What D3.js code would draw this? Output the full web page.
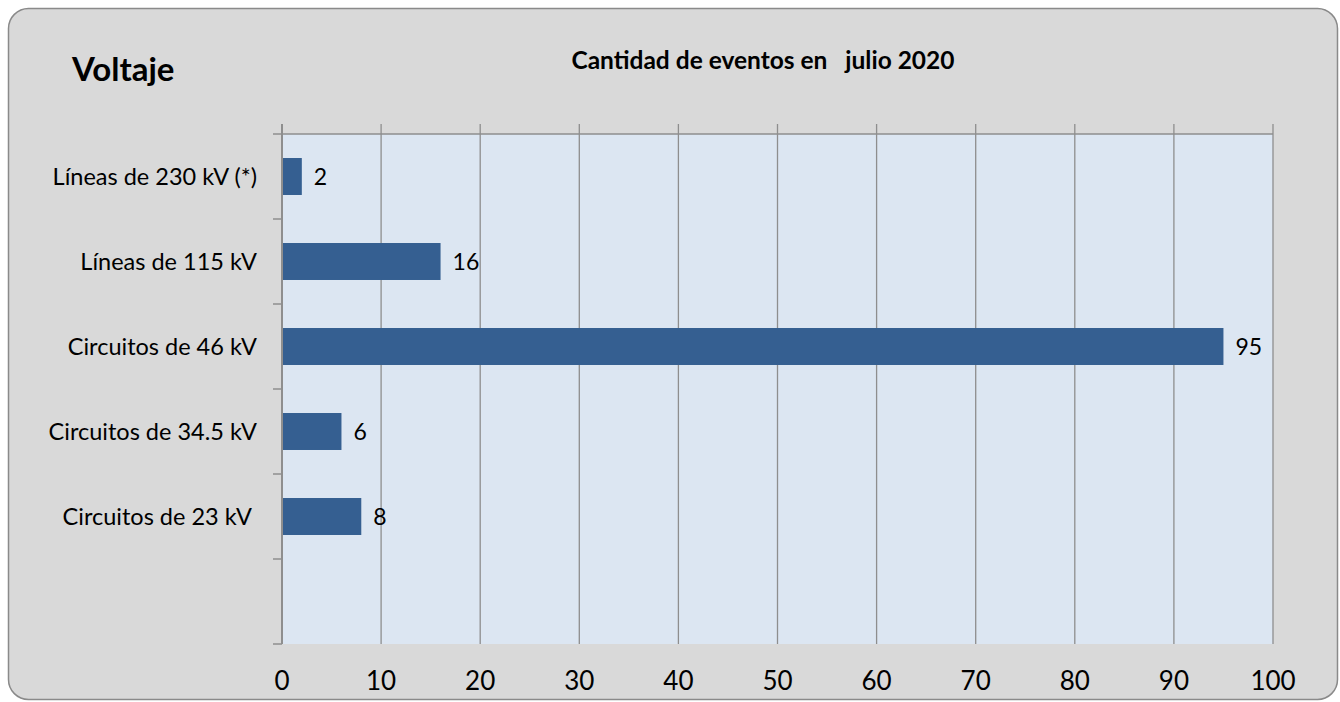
<!DOCTYPE html>
<html>
<head>
<meta charset="utf-8">
<script src="https://cdn.jsdelivr.net/npm/d3@7"></script>
<style>
  body { margin: 0; background: #fff; }
  text { font-family: Lato, "Open Sans", sans-serif; fill: #000; }
</style>
</head>
<body>
<div id="root"></div>
<script>
const categories = [
  "Líneas de 230 kV (*)",
  "Líneas de 115 kV",
  "Circuitos de 46 kV",
  "Circuitos de 34.5 kV",
  "Circuitos de 23 kV ",
  ""
];
const values = [2, 16, 95, 6, 8, null];
const xTicks = [0, 10, 20, 30, 40, 50, 60, 70, 80, 90, 100];

const width = 1340;
const height = 702;
const plot = { left: 282, right: 1273, top: 134, bottom: 644 };

const svg = d3.select("#root")
  .append("svg")
  .attr("width", width)
  .attr("height", height);

// chart frame
svg.append("rect")
  .attr("x", 8.5)
  .attr("y", 8.5)
  .attr("width", 1329)
  .attr("height", 691)
  .attr("rx", 20)
  .attr("fill", "#d9d9d9")
  .attr("stroke", "#8a8a8a")
  .attr("stroke-width", 1.5);

const x = d3.scaleLinear().domain([0, 100]).range([plot.left, plot.right]);
const y = d3.scaleBand().domain(d3.range(categories.length)).range([plot.top, plot.bottom]);

// plot area
svg.append("rect")
  .attr("x", plot.left)
  .attr("y", plot.top)
  .attr("width", plot.right - plot.left)
  .attr("height", plot.bottom - plot.top)
  .attr("fill", "#dce6f2");

// vertical gridlines
svg.selectAll(".grid")
  .data(xTicks)
  .enter()
  .append("line")
  .attr("class", "grid")
  .attr("x1", (d) => x(d))
  .attr("x2", (d) => x(d))
  .attr("y1", plot.top - 10)
  .attr("y2", plot.bottom)
  .attr("stroke", "#8e8e8e")
  .attr("stroke-width", (d) => (d === 0 ? 2 : 1.3));

// top line
svg.append("line")
  .attr("x1", plot.left - 9)
  .attr("x2", plot.right)
  .attr("y1", plot.top)
  .attr("y2", plot.top)
  .attr("stroke", "#8e8e8e")
  .attr("stroke-width", 1.5);

// category ticks
const bounds = d3.range(categories.length + 1).map((i) => plot.top + i * y.step());
svg.selectAll(".ytick")
  .data(bounds.slice(1))
  .enter()
  .append("line")
  .attr("x1", plot.left - 9)
  .attr("x2", plot.left)
  .attr("y1", (d) => d)
  .attr("y2", (d) => d)
  .attr("stroke", "#8e8e8e")
  .attr("stroke-width", 1.5);

// bars
const barH = y.bandwidth() * 0.435;
const rows = categories.map((c, i) => ({ c, i, v: values[i] })).filter((d) => d.v != null);

svg.selectAll(".bar")
  .data(rows)
  .enter()
  .append("rect")
  .attr("class", "bar")
  .attr("x", x(0) + 1)
  .attr("y", (d) => y(d.i) + (y.bandwidth() - barH) / 2)
  .attr("width", (d) => x(d.v) - x(0) - 1)
  .attr("height", barH)
  .attr("fill", "#355f91");

// value labels
svg.selectAll(".val")
  .data(rows)
  .enter()
  .append("text")
  .attr("x", (d) => x(d.v) + 12)
  .attr("y", (d) => y(d.i) + y.bandwidth() / 2)
  .attr("dy", "0.35em")
  .attr("font-size", 23)
  .text((d) => d.v);

// category labels
svg.selectAll(".cat")
  .data(categories)
  .enter()
  .append("text")
  .attr("x", 257)
  .attr("y", (d, i) => y(i) + y.bandwidth() / 2)
  .attr("dy", "0.35em")
  .attr("text-anchor", "end")
  .attr("font-size", 23.5)
  .style("white-space", "pre")
  .text((d) => d);

// x tick labels
svg.selectAll(".xlab")
  .data(xTicks)
  .enter()
  .append("text")
  .attr("x", (d) => x(d))
  .attr("y", 690)
  .attr("text-anchor", "middle")
  .attr("font-size", 26)
  .text((d) => d);

// titles
svg.append("text")
  .attr("x", 72)
  .attr("y", 81)
  .attr("font-size", 33)
  .attr("font-weight", "bold")
  .text("Voltaje");

svg.append("text")
  .attr("x", 763)
  .attr("y", 69)
  .attr("text-anchor", "middle")
  .attr("font-size", 24.5)
  .attr("font-weight", "bold")
  .style("white-space", "pre")
  .text("Cantidad de eventos en   julio 2020");
</script>
</body>
</html>
